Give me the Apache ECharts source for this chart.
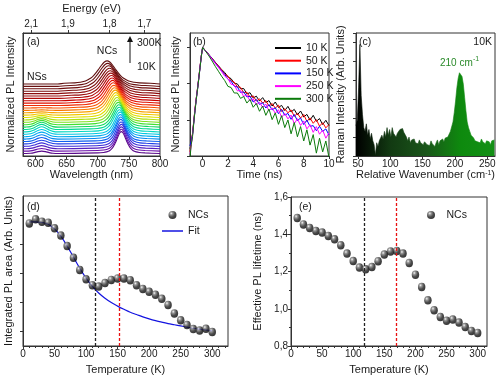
<!DOCTYPE html>
<html><head><meta charset="utf-8">
<script src="https://cdn.jsdelivr.net/npm/echarts@6/dist/echarts.min.js"></script>
<style>html,body{margin:0;padding:0;background:#fff}#c{width:500px;height:380px}</style>
</head><body><div id="c"></div>
<script>
// ---------- Panel (a): PL spectra ----------
var plTemps = [10,20,30,40,50,60,70,80,90,100,110,120,130,140,150,160,170,180,190,200,210,220,230,240,250,260,270,280,290,300];
var ncPeakNm = [738,738,738,738,737.5,737,737,736.5,736,735,734.5,734,733,732,731,730,729,728,727,726,725,724,723,722,721,720,719,717.5,716,715];
var ncHwhm = [9.5,9.5,9.7,9.9,10.1,10.3,10.5,10.8,11.0,11.3,11.6,11.9,12.2,12.5,12.8,13.1,13.4,13.7,14.0,14.3,14.6,14.9,15.2,15.5,15.8,16.1,16.4,16.7,17.0,17.3];
var ncAmp = [0.178,0.178,0.178,0.179,0.179,0.18,0.18,0.18,0.181,0.181,0.181,0.182,0.182,0.182,0.183,0.183,0.183,0.184,0.184,0.184,0.185,0.185,0.185,0.186,0.186,0.186,0.187,0.187,0.187,0.188];
var nsAmp = [0.02,0.022,0.025,0.028,0.03,0.033,0.036,0.038,0.04,0.042,0.042,0.04,0.036,0.03,0.024,0.018,0.012,0.007,0.004,0.002,0,0,0,0,0,0,0,0,0,0];
var nsCenterNm = 610;
var nsShapeOff = [-26,-18,-12,-6,0,6,12,18,26];
var nsShapeVal = [0.01,0.11,0.37,0.78,1,0.78,0.37,0.11,0.01];
var ncShapeOff = [-4,-3,-2.5,-2,-1.5,-1.25,-1,-0.75,-0.5,-0.25,0,0.25,0.5,0.75,1,1.25,1.5,2,2.5,3,4];
var ncShapeVal = [0.03,0.05,0.076,0.13,0.26,0.364,0.5,0.66,0.82,0.95,1,0.95,0.82,0.66,0.5,0.364,0.26,0.13,0.076,0.05,0.03];
var curveOffsetStep = 0.0195, curveOffsetBase = 0.02;
var plColors = ['#5a0a8a','#6a10a8','#5520c0','#3a2ad8','#2040e8','#1060f0','#0088f0','#00a8f0','#00c8e0','#00d8c0','#00d890','#10d860','#40e030','#80e020','#b0e010','#e0e000','#f0c800','#f8a000','#f87800','#f85000','#f02800','#e01000','#c80000','#b00808','#9a0a0a','#8a0a0a','#7a0a0a','#700c0c','#681010','#601010'];
var wlTicks = [600,650,700,750,800];
var energyLabels = ['2,1','1,9','1,8','1,7'];
var energyTickNm = [593,652,719,775];

// ---------- Panel (b): PL decays ----------
var decayTime = [-1,-0.9,-0.8,-0.7,-0.6,-0.5,-0.4,-0.3,-0.2,-0.1,0,0.25,0.5,0.75,1,1.25,1.5,1.75,2,2.25,2.5,2.75,3,3.25,3.5,3.75,4,4.25,4.5,4.75,5,5.25,5.5,5.75,6,6.25,6.5,6.75,7,7.25,7.5,7.75,8,8.25,8.5,8.75,9,9.25,9.5,9.75,10];
var decayNames = ['10 K','50 K','150 K','250 K','300 K'];
var decayColors = ['#000000','#ff0000','#0000ff','#ff00ff','#0a7a0a'];
var decay10K = [0.0016,0.0022,0.004,0.009,0.02,0.04,0.075,0.15,0.3,0.6,1,0.80,0.63,0.50,0.39,0.31,0.245,0.203,0.153,0.137,0.103,0.098,0.072,0.073,0.052,0.056,0.040,0.045,0.033,0.041,0.030,0.034,0.024,0.031,0.022,0.025,0.018,0.0235,0.0164,0.0194,0.0137,0.0175,0.0120,0.0141,0.0098,0.0133,0.0091,0.0108,0.0074,0.0097,0.0069];
var decay50K = [0.0013,0.0025,0.0042,0.0095,0.021,0.041,0.077,0.15,0.31,0.6,1,0.80,0.62,0.49,0.385,0.305,0.24,0.184,0.161,0.120,0.110,0.081,0.079,0.056,0.058,0.042,0.046,0.033,0.038,0.0288,0.0339,0.0237,0.0282,0.021,0.0254,0.0169,0.0202,0.0156,0.0188,0.0125,0.015,0.0112,0.014,0.009,0.0113,0.008,0.0101,0.0067,0.0083,0.006,0.0074];
var decay150K = [0.0019,0.0017,0.0038,0.0088,0.019,0.039,0.073,0.145,0.29,0.59,1,0.79,0.62,0.48,0.37,0.29,0.225,0.180,0.132,0.117,0.085,0.081,0.057,0.059,0.043,0.045,0.031,0.0366,0.0266,0.0298,0.0212,0.0264,0.0188,0.0215,0.0148,0.0194,0.0134,0.015,0.0103,0.014,0.0095,0.0112,0.0074,0.0098,0.0066,0.0069,0.0050,0.0066,0.0048,0.0056,0.0038];
var decay250K = [0.0011,0.002,0.0037,0.0085,0.019,0.038,0.072,0.14,0.29,0.58,1,0.78,0.61,0.47,0.36,0.28,0.215,0.160,0.137,0.096,0.092,0.063,0.065,0.044,0.049,0.033,0.038,0.0259,0.0307,0.0219,0.0272,0.0176,0.0215,0.0151,0.019,0.0117,0.015,0.0106,0.0135,0.0078,0.0107,0.007,0.0093,0.0056,0.0073,0.0045,0.0065,0.004,0.0052,0.0031,0.0044];
var decay300K = [0.0009,0.0021,0.0034,0.0082,0.018,0.037,0.07,0.14,0.28,0.58,1,0.77,0.58,0.42,0.30,0.22,0.16,0.121,0.084,0.078,0.055,0.055,0.039,0.044,0.029,0.0365,0.0222,0.0284,0.0172,0.024,0.0133,0.0198,0.0101,0.0155,0.0075,0.013,0.0061,0.0099,0.0041,0.0084,0.0034,0.0065,0.0026,0.0053,0.0020,0.0039,0.0012,0.0031,0.0013,0.0026,0.0009];
var timeTicks = [0,2,4,6,8,10];

// ---------- Panel (c): Raman ----------
var ramanStart = 47, ramanStep = 2;
var ramanIntensity = [1.6,1.9,3.6,5.9,3.2,2.2,1.5,1.3,1.7,1.1,1.4,0.9,1.2,0.8,0.6,0.05,0.7,0.5,0.8,0.7,1.1,0.9,1.3,1.0,1.5,1.1,1.4,1.0,1.5,1.2,1.3,1.0,1.2,1.1,1.4,1.3,1.45,1.25,1.35,1.0,0.8,1.0,0.7,0.85,0.75,0.9,0.7,0.8,0.65,0.85,0.7,0.8,0.6,0.75,0.8,0.6,0.7,0.55,0.8,0.65,0.75,0.5,0.7,0.85,0.6,0.8,0.7,0.9,0.75,0.95,0.85,1.0,1.1,1.3,1.4,1.8,2.3,2.9,3.6,4.1,4.4,4.35,4.2,3.8,3.1,2.4,1.8,1.5,1.3,1.1,1.0,0.95,0.8,0.9,0.75,0.85,0.7,0.9,0.75,0.8,0.65,0.8,0.7,0.75,0.6,0.8,0.7,0.85];
var ramanTicks = [50,100,150,200,250];

// ---------- Panel (d): integrated PL area ----------
var tempK = [10,20,30,40,50,60,70,80,90,100,110,120,130,140,150,160,170,180,190,200,210,220,230,240,250,260,270,280,290,300];
var plArea = [4.71,4.85,4.77,4.73,4.54,4.29,3.93,3.53,3.11,2.79,2.59,2.54,2.66,2.77,2.82,2.82,2.76,2.59,2.46,2.36,2.26,2.12,1.91,1.62,1.38,1.22,1.08,1.03,1.09,0.98];
var plAreaFit = [4.76,4.76,4.74,4.68,4.52,4.27,3.93,3.55,3.17,2.83,2.55,2.32,2.14,1.99,1.87,1.76,1.66,1.58,1.50,1.43,1.37,1.32,1.27,1.23,1.19,1.15,1.11,1.08,1.05,1.02];
var dLinesK = [115, 152];

// ---------- Panel (e): effective lifetime ----------
var lifetimeNs = [1.487,1.453,1.434,1.418,1.409,1.391,1.373,1.341,1.296,1.256,1.221,1.212,1.224,1.255,1.291,1.308,1.310,1.296,1.246,1.183,1.117,1.045,0.992,0.956,0.936,0.942,0.926,0.902,0.881,0.870];
var eLinesK = [118, 169];
var tempTicks = [0,50,100,150,200,250,300];

// ---------- build ----------
var FONT = '"Liberation Sans", Arial, sans-serif';
var TXT = '#1a1a1a';
var chart = echarts.init(document.getElementById('c'), null, {renderer:'canvas'});

function lbl(extra){ return Object.assign({fontFamily:FONT,fontSize:10,color:TXT,margin:3}, extra||{}); }
function nameStyle(){ return {fontFamily:FONT,fontSize:11,color:TXT}; }
var axLine = {show:true, onZero:false, lineStyle:{color:'#333',width:1}};

var series = [];
plTemps.forEach(function(T,i){
  var b = curveOffsetBase + i*curveOffsetStep;
  var pts = [[580,b]];
  nsShapeOff.forEach(function(o,k){ pts.push([nsCenterNm+o, b + nsAmp[i]*nsShapeVal[k]]); });
  ncShapeOff.forEach(function(o,k){ pts.push([ncPeakNm[i]+o*ncHwhm[i], b + ncAmp[i]*ncShapeVal[k]]); });
  pts.push([800,b]);
  series.push({type:'line', name:'PL '+T+'K', xAxisIndex:0, yAxisIndex:0, data:pts, smooth:0.3, symbol:'none',
    lineStyle:{color:plColors[i], width:1.1}, itemStyle:{color:plColors[i]}, silent:true});
});
[decay10K,decay50K,decay150K,decay250K,decay300K].forEach(function(arr,i){
  series.push({type:'line', name:decayNames[i], xAxisIndex:2, yAxisIndex:1,
    data:decayTime.map(function(t,k){return [t,arr[k]];}), symbol:'none',
    lineStyle:{color:decayColors[i], width:1}, itemStyle:{color:decayColors[i]}, silent:true});
});
var ramanGrad = new echarts.graphic.LinearGradient(0,0,1,0,[
  {offset:0,color:'#000000'},{offset:0.25,color:'#123a12'},{offset:0.5,color:'#1a551a'},{offset:0.76,color:'#0e8a0e'},{offset:1,color:'#149016'}]);
series.push({type:'line', name:'Raman', xAxisIndex:3, yAxisIndex:2,
  data:ramanIntensity.map(function(v,k){return [ramanStart+k*ramanStep, v];}), symbol:'none',
  lineStyle:{color:ramanGrad, width:0.6}, areaStyle:{color:ramanGrad, opacity:1, origin:'start'}, silent:true});

var sphere = {type:'radial', x:0.35, y:0.3, r:0.75, colorStops:[
  {offset:0,color:'#f2f2f2'},{offset:0.25,color:'#7a7a7a'},{offset:0.6,color:'#202020'},{offset:1,color:'#000'}]};
function vlines(vals){
  return {symbol:['none','none'], silent:true, label:{show:false}, animation:false,
    data:[{xAxis:vals[0], lineStyle:{color:'#222', type:[3,2], width:1.3}},
          {xAxis:vals[1], lineStyle:{color:'#e81010', type:[3,2], width:1.3}}]};
}
series.push({type:'line', name:'Fit', xAxisIndex:4, yAxisIndex:3, data:tempK.map(function(t,k){return [t,plAreaFit[k]];}),
  smooth:0.4, symbol:'none', lineStyle:{color:'#1414e0', width:1.2}, itemStyle:{color:'#1414e0'}, z:3, markLine:vlines(dLinesK)});
series.push({type:'scatter', name:'NCs', xAxisIndex:4, yAxisIndex:3, data:tempK.map(function(t,k){return [t,plArea[k]];}),
  symbolSize:[7.5,8.5], itemStyle:{color:sphere}, z:4});
series.push({type:'scatter', name:'NCs', xAxisIndex:5, yAxisIndex:4, data:tempK.map(function(t,k){return [t,lifetimeNs[k]];}),
  symbolSize:[7.5,8.5], itemStyle:{color:sphere}, z:4, markLine:vlines(eLinesK)});

var lineIcon26 = 'path://M0,0L26,0L26,2L0,2Z';
var lineIcon21 = 'path://M0,0L21,0L21,1.5L0,1.5Z';
var gridBase = {show:true, borderColor:'#333', borderWidth:1, backgroundColor:'transparent', containLabel:false};
var option = {
  animation:false,
  backgroundColor:'#fff',
  textStyle:{fontFamily:FONT},
  grid:[
    Object.assign({left:23, top:33, width:137, height:123}, gridBase),
    Object.assign({left:190, top:33, width:139, height:123}, gridBase),
    Object.assign({left:356, top:33, width:139, height:123}, gridBase),
    Object.assign({left:23, top:196, width:205, height:150}, gridBase),
    Object.assign({left:291, top:197, width:196, height:149}, gridBase)
  ],
  xAxis:[
    {gridIndex:0, type:'value', min:580, max:800, axisLine:axLine, splitLine:{show:false},
     axisTick:{show:true, length:3, customValues:wlTicks, lineStyle:{color:'#333'}},
     axisLabel:lbl({customValues:wlTicks}), name:'Wavelength (nm)', nameLocation:'middle', nameGap:13, nameTextStyle:nameStyle()},
    {gridIndex:0, type:'value', position:'top', min:580, max:800, axisLine:axLine, splitLine:{show:false},
     axisTick:{show:true, length:3, customValues:energyTickNm, lineStyle:{color:'#333'}},
     axisLabel:lbl({customValues:energyTickNm, margin:4, formatter:function(v){var k=energyTickNm.indexOf(v);return k>=0?energyLabels[k]:'';}}),
     name:'Energy (eV)', nameLocation:'middle', nameGap:19, nameTextStyle:nameStyle()},
    {gridIndex:1, type:'value', min:-1, max:10, axisLine:axLine, splitLine:{show:false},
     axisTick:{show:true, length:3, customValues:timeTicks, lineStyle:{color:'#333'}},
     axisLabel:lbl({customValues:timeTicks}), name:'Time (ns)', nameLocation:'middle', nameGap:13, nameTextStyle:nameStyle()},
    {gridIndex:2, type:'value', min:47, max:262, axisLine:axLine, splitLine:{show:false},
     axisTick:{show:true, length:3, customValues:ramanTicks, lineStyle:{color:'#333'}},
     axisLabel:lbl({customValues:ramanTicks}), name:'Relative Wavenumber (cm{s|-1})', nameLocation:'middle', nameGap:13,
     nameTextStyle:Object.assign(nameStyle(),{rich:{s:{fontFamily:FONT,fontSize:7,color:TXT,verticalAlign:'top',lineHeight:9}}})},
    {gridIndex:3, type:'value', min:0, max:325, interval:50, axisLine:axLine, splitLine:{show:false},
     axisTick:{show:true, length:3, customValues:tempTicks, lineStyle:{color:'#333'}},
     minorTick:{show:true, splitNumber:5, length:2, lineStyle:{color:'#333'}},
     axisLabel:lbl({customValues:tempTicks}), name:'Temperature (K)', nameLocation:'middle', nameGap:18, nameTextStyle:nameStyle()},
    {gridIndex:4, type:'value', min:0, max:315, interval:50, axisLine:axLine, splitLine:{show:false},
     axisTick:{show:true, length:3, customValues:tempTicks, lineStyle:{color:'#333'}},
     minorTick:{show:true, splitNumber:5, length:2, lineStyle:{color:'#333'}},
     axisLabel:lbl({customValues:tempTicks}), name:'Temperature (K)', nameLocation:'middle', nameGap:18, nameTextStyle:nameStyle()}
  ],
  yAxis:[
    {gridIndex:0, type:'value', min:0, max:1, axisLine:axLine, axisTick:{show:false}, axisLabel:{show:false}, splitLine:{show:false},
     name:'Normalized PL Intensity', nameLocation:'middle', nameGap:7, nameTextStyle:nameStyle()},
    {gridIndex:1, type:'log', logBase:10, min:0.001, max:2.5, axisLine:axLine, splitLine:{show:false},
     axisTick:{show:true, length:3, customValues:[0.001,0.01,0.1,1], lineStyle:{color:'#333'}}, axisLabel:{show:false},
     name:'Normalized PL Intensity', nameLocation:'middle', nameGap:9, nameTextStyle:nameStyle()},
    {gridIndex:2, type:'value', min:0, max:6.5, interval:1, axisLine:axLine, splitLine:{show:false},
     axisTick:{show:true, length:3, lineStyle:{color:'#333'}}, axisLabel:{show:false},
     name:'Raman Intensity (Arb. Units)', nameLocation:'middle', nameGap:10, nameTextStyle:nameStyle()},
    {gridIndex:3, type:'value', min:0.5, max:5.65, axisLine:axLine, splitLine:{show:false},
     axisTick:{show:true, length:3, customValues:[1,2,3,4,5], lineStyle:{color:'#333'}}, axisLabel:{show:false},
     name:'Integrated PL area (Arb. Units)', nameLocation:'middle', nameGap:9, nameTextStyle:nameStyle()},
    {gridIndex:4, type:'value', min:0.8, max:1.6, interval:0.2, axisLine:axLine, splitLine:{show:false},
     axisTick:{show:true, length:3, lineStyle:{color:'#333'}},
     minorTick:{show:true, splitNumber:2, length:2, lineStyle:{color:'#333'}},
     axisLabel:lbl({formatter:function(v){return v.toFixed(1).replace('.',',');}}),
     name:'Effective PL lifetime (ns)', nameLocation:'middle', nameGap:28, nameTextStyle:nameStyle()}
  ],
  legend:[
    {data:decayNames.map(function(n){return {name:n, icon:lineIcon26};}), orient:'vertical', left:270, top:37, itemWidth:26, itemHeight:12, itemGap:0.7,
     textStyle:{fontFamily:FONT, fontSize:10.5, color:TXT, lineHeight:12}, selectedMode:false},
    {data:[{name:'NCs'},{name:'Fit', icon:lineIcon21}], orient:'vertical', left:157, top:204, itemWidth:21, itemHeight:8, itemGap:4,
     textStyle:{fontFamily:FONT, fontSize:10.5, color:TXT, lineHeight:12}, selectedMode:false},
    {data:['NCs'], orient:'vertical', left:422, top:204, itemWidth:21, itemHeight:8,
     textStyle:{fontFamily:FONT, fontSize:10.5, color:TXT, lineHeight:12}, selectedMode:false}
  ],
  graphic:[
    {type:'text', x:27, y:42, style:{text:'(a)', font:'10.5px '+FONT, fill:TXT, verticalAlign:'middle', textVerticalAlign:'middle'}},
    {type:'text', x:27, y:77, style:{text:'NSs', font:'10.5px '+FONT, fill:TXT, verticalAlign:'middle', textVerticalAlign:'middle'}},
    {type:'text', x:107, y:51, style:{text:'NCs', font:'10.5px '+FONT, fill:TXT, align:'center', textAlign:'center', verticalAlign:'middle', textVerticalAlign:'middle'}},
    {type:'line', shape:{x1:130, y1:63, x2:130, y2:41}, style:{stroke:'#111', lineWidth:1}},
    {type:'polygon', shape:{points:[[127,42],[133,42],[130,36]]}, style:{fill:'#111'}},
    {type:'text', x:137, y:43, style:{text:'300K', font:'10.5px '+FONT, fill:TXT, verticalAlign:'middle', textVerticalAlign:'middle'}},
    {type:'text', x:137, y:67, style:{text:'10K', font:'10.5px '+FONT, fill:TXT, verticalAlign:'middle', textVerticalAlign:'middle'}},
    {type:'text', x:193, y:42, style:{text:'(b)', font:'10.5px '+FONT, fill:TXT, verticalAlign:'middle', textVerticalAlign:'middle'}},
    {type:'text', x:359, y:42, style:{text:'(c)', font:'10.5px '+FONT, fill:TXT, verticalAlign:'middle', textVerticalAlign:'middle'}},
    {type:'text', x:492, y:42, style:{text:'10K', font:'10.5px '+FONT, fill:TXT, align:'right', textAlign:'right', verticalAlign:'middle', textVerticalAlign:'middle'}},
    {type:'text', x:440, y:63, style:{text:'210 cm', font:'10px '+FONT, fill:'#2a8a2a', verticalAlign:'middle', textVerticalAlign:'middle'}},
    {type:'text', x:473, y:59, style:{text:'-1', font:'7px '+FONT, fill:'#2a8a2a', verticalAlign:'middle', textVerticalAlign:'middle'}},
    {type:'text', x:27, y:207, style:{text:'(d)', font:'10.5px '+FONT, fill:TXT, verticalAlign:'middle', textVerticalAlign:'middle'}},
    {type:'text', x:299, y:207, style:{text:'(e)', font:'10.5px '+FONT, fill:TXT, verticalAlign:'middle', textVerticalAlign:'middle'}}
  ],
  series:series
};
chart.setOption(option);
</script></body></html>
